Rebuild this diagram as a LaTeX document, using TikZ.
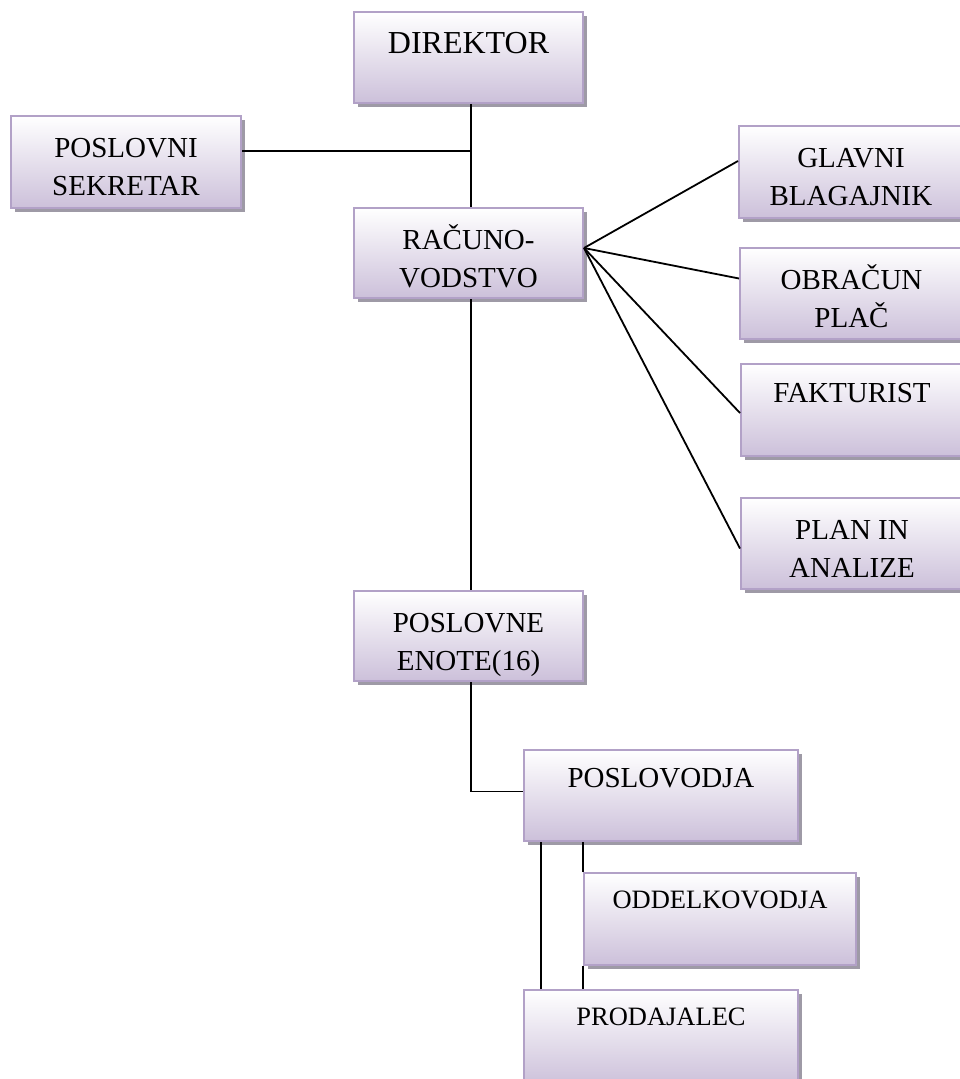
\documentclass[tikz,border=0pt]{standalone}
\usepackage{fontspec}
\setmainfont{Liberation Serif}
\usetikzlibrary{shadows,calc}
\definecolor{boxedge}{RGB}{178,161,199}
\definecolor{boxlow}{RGB}{204,192,218}
\definecolor{boxshade}{RGB}{158,154,166}
\tikzset{
  unit/.style={draw=boxedge, line width=2pt, top color=white, bottom color=boxlow,
    inner sep=0pt, anchor=north west,
    drop shadow={shadow xshift=4pt, shadow yshift=-4pt, fill=boxshade, opacity=1}},
  caption/.style={anchor=base, align=center, inner sep=0pt, text=black,
    font=\fontsize{29}{38}\selectfont},
  smallcaption/.style={caption, font=\fontsize{26.5}{36}\selectfont},
  link/.style={line width=1.8pt, black},
}
\begin{document}
\begin{tikzpicture}[x=1pt, y=-1pt]
\useasboundingbox (0,0) rectangle (960,1079);
\clip (0,0) rectangle (960,1079);

% boxes
\node[unit, minimum width=229pt, minimum height=91pt] (dir) at (353,11) {};
\node[unit, minimum width=230pt, minimum height=92pt] (sek) at (10,115) {};
\node[unit, minimum width=229pt, minimum height=90pt] (rac) at (353,207) {};
\node[unit, minimum width=224pt, minimum height=92pt] (gla) at (738,125) {};
\node[unit, minimum width=223pt, minimum height=91pt] (obr) at (739,247) {};
\node[unit, minimum width=222pt, minimum height=92pt] (fak) at (740,363) {};
\node[unit, minimum width=222pt, minimum height=91pt] (pla) at (740,497) {};
\node[unit, minimum width=229pt, minimum height=90pt] (pos) at (353,590) {};
\node[unit, minimum width=274pt, minimum height=91pt] (vod) at (523,749) {};
\node[unit, minimum width=272pt, minimum height=92pt] (odd) at (583,872) {};
\node[unit, minimum width=274pt, minimum height=96pt] (pro) at (523,989) {};

% captions (two-line captions are anchored on their second baseline)
\node[caption, font=\fontsize{32}{38}\selectfont] (dir-t) at ([yshift=-42pt]dir.north) {DIREKTOR};
\node[caption] (sek-t) at ([yshift=-80pt]sek.north) {POSLOVNI\\SEKRETAR};
\node[caption] (rac-t) at ([yshift=-80pt]rac.north) {RAČUNO-\\VODSTVO};
\node[caption] (gla-t) at ([yshift=-80pt]gla.north) {GLAVNI\\BLAGAJNIK};
\node[caption] (obr-t) at ([yshift=-80pt]obr.north) {OBRAČUN\\PLAČ};
\node[caption] (fak-t) at ([yshift=-39pt]fak.north) {FAKTURIST};
\node[caption] (pla-t) at ([yshift=-80pt]pla.north) {PLAN IN\\ANALIZE};
\node[caption] (pos-t) at ([yshift=-80pt]pos.north) {POSLOVNE\\ENOTE(16)};
\node[caption] (vod-t) at ([yshift=-38pt]vod.north) {POSLOVODJA};
\node[smallcaption] (odd-t) at ([yshift=-36pt]odd.north) {ODDELKOVODJA};
\node[smallcaption] (pro-t) at ([yshift=-36pt]pro.north) {PRODAJALEC};

% connectors
\coordinate (axis) at ([xshift=2.5pt]dir.south);
\draw[link] (axis) -- ([xshift=2.5pt]rac.north);
\draw[link] ([yshift=11pt]sek.east) -- ([yshift=11pt]sek.east -| axis);
\coordinate (fan) at ([yshift=5pt]rac.east);
\draw[link] (fan) -- ([yshift=11pt]gla.west);
\draw[link] (fan) -- ([yshift=15pt]obr.west);
\draw[link] (fan) -- ([yshift=-3pt]fak.west);
\draw[link] (fan) -- ([yshift=-5pt]pla.west);
\draw[link] ([xshift=2.5pt]rac.south) -- ([xshift=2.5pt]pos.north);
\coordinate (drop) at ([xshift=2.5pt]pos.south);
\coordinate (bend) at ([yshift=4pt]vod.west -| drop);
\draw[link] (drop) -- (bend) -- ([yshift=4pt]vod.west);
\draw[link] ([xshift=18pt]vod.south west) -- ([xshift=18pt]pro.north west);
\draw[link] (odd.north west) -- (odd.north west |- vod.south);
\draw[link] (odd.south west) -- (odd.south west |- pro.north);
\end{tikzpicture}
\end{document}
